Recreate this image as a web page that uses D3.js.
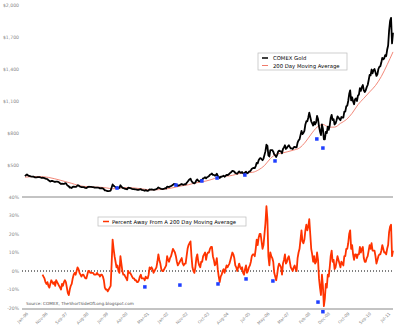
<!DOCTYPE html>
<html><head><meta charset="utf-8">
<script src="https://cdn.jsdelivr.net/npm/d3@7"></script>
<style>body{margin:0;background:#fff}svg{display:block}text{font-family:"DejaVu Sans",Verdana,sans-serif}</style>
</head><body><svg id="c" width="400" height="328"></svg>
<script>
// ---- DATA ----
// COMEX gold, semimonthly readings starting Jan 1996
const goldStart = 1996.0;
const goldPrice = [
395,405,412,404,398,396,393,392,391,390,385,383,384,386,387,387,383,380,381,380,378,372,369,368,
358,352,345,350,352,348,343,342,345,344,342,338,328,322,325,324,322,328,330,315,305,300,288,290,
284,295,298,296,295,298,310,308,300,296,292,293,292,290,285,284,290,295,296,294,294,293,292,289,
288,287,288,287,286,280,282,283,281,273,263,261,258,255,255,257,260,290,318,305,298,293,285,290,
285,285,310,298,288,283,281,276,275,272,287,286,283,280,276,274,273,271,271,268,266,268,272,274,
266,265,263,258,265,260,258,262,272,270,272,270,266,268,272,274,280,290,284,280,276,274,275,278,
282,280,298,296,293,299,302,308,314,322,322,318,312,305,310,312,318,322,316,315,320,318,332,343,
355,365,372,350,338,330,328,336,355,365,352,346,350,360,360,375,378,385,375,385,390,396,408,413,
420,407,408,400,405,418,398,388,378,390,390,395,400,390,398,408,405,410,418,428,435,445,442,438,
425,422,418,430,440,430,426,434,422,417,430,438,422,425,437,440,450,465,470,472,470,490,520,515,
545,560,565,555,545,560,595,630,690,680,590,580,640,640,640,625,600,590,575,595,625,635,630,628,
610,650,665,685,650,660,675,685,670,655,655,650,665,670,665,665,710,730,740,780,820,790,800,820,
880,910,910,945,990,950,910,890,870,905,880,900,960,930,860,815,780,880,840,740,740,810,800,860,
830,870,940,970,920,930,880,890,920,955,945,930,920,950,945,945,1000,1000,1050,1055,1100,1165,1200,1105,
1135,1095,1070,1115,1125,1100,1150,1160,1220,1195,1230,1250,1200,1185,1200,1230,1250,1295,1345,1340,1395,1360,1390,1400,
1370,1335,1350,1400,1420,1425,1460,1505,1490,1500,1530,1520,1580,1620,1760,1850,1880,1640,1740
];
// 200 day moving average, quarterly readings
const maYears = [1996.0,1996.25,1996.5,1996.75,1997.0,1997.25,1997.5,1997.75,1998.0,1998.25,1998.5,1998.75,
1999.0,1999.25,1999.5,1999.75,2000.0,2000.25,2000.5,2000.75,2001.0,2001.25,2001.5,2001.75,2002.0,2002.25,2002.5,2002.75,
2003.0,2003.25,2003.5,2003.75,2004.0,2004.25,2004.5,2004.75,2005.0,2005.25,2005.5,2005.75,2006.0,2006.25,2006.5,2006.75,
2007.0,2007.25,2007.5,2007.75,2008.0,2008.25,2008.5,2008.75,2009.0,2009.25,2009.5,2009.75,2010.0,2010.25,2010.5,2010.75,
2011.0,2011.25,2011.5,2011.75];
const maValues = [386,390,392,390,384,372,358,343,328,310,300,295,
293,291,285,277,283,287,287,283,276,269,267,269,274,283,295,306,
315,330,340,350,365,385,395,398,410,423,428,432,455,495,560,600,
612,625,640,660,715,790,855,880,855,855,890,925,985,1065,1125,1185,
1245,1330,1440,1560];
// Percent away from the 200 day average, semimonthly from Oct 1996
const pctStart = 1996.75;
const pctValues = [
-2,-3,-4,-6,-7,-6,
-8,-9,-7,-5,-6,-7,-6,-8,-5,-6,-7,-8,-9,-10,-7,-8,-6,-5,-6,-9,-12,-13,-10,-8,
-7,-4,-2,-1,-2,0,2,1,-1,-2,-3,-2,-2,-3,-4,-4,-2,0,0,-1,-1,-1,-1,-2,
-2,-2,-1,-2,-2,-3,-2,-2,-3,-5,-9,-10,-10,-11,-10,-9,-8,4,17,12,8,5,2,3,
0,-1,8,4,0,-2,-2,-3,-4,-5,0,-1,-1,-2,-3,-4,-4,-5,-5,-6,-6,-5,-3,-2,
-4,-4,-4,-5,-3,-4,-4,-2,2,1,2,1,-1,0,1,2,5,9,6,4,1,0,0,1,
2,3,8,6,5,7,8,10,12,11,10,8,5,3,4,5,6,7,4,3,4,4,8,12,
14,15,16,8,2,0,-1,2,7,9,5,3,2,5,5,8,9,10,6,9,10,10,12,13,
13,8,6,3,4,7,1,-3,-6,-3,-2,0,1,-1,1,3,2,3,4,6,8,10,9,7,
3,2,0,2,4,2,1,2,-1,-2,1,3,-1,0,2,3,5,8,9,9,8,12,17,14,
18,20,20,16,12,14,20,26,35,28,8,3,10,8,7,5,-1,-3,-5,-2,2,4,3,2,
-2,4,6,9,4,5,7,8,5,2,1,0,2,3,1,0,7,10,12,17,22,16,15,17,
22,25,22,24,28,20,12,9,5,8,4,5,10,6,-4,-9,-13,-2,-8,-19,-15,-7,-9,-2,
-3,2,8,11,5,6,1,2,5,8,6,4,2,5,4,3,8,8,12,12,15,20,22,12,
14,9,6,9,9,7,9,9,13,10,12,13,7,5,5,7,8,11,14,12,15,11,11,11,
8,4,6,8,9,9,11,14,12,10,10,9,12,14,21,24,25,8,11
];
const xTickYears = [1996.0,1996.83,1997.67,1998.58,1999.42,2000.25,2001.17,2002.0,2002.83,2003.75,2004.58,2005.5,2006.33,2007.17,2008.08,2008.92,2009.75,2010.67,2011.5];
const xTickLabels = ["Jan-96","Nov-96","Sep-97","Aug-98","Jun-99","Apr-00","Mar-01","Jan-02","Nov-02","Oct-03","Aug-04","Jul-05","May-06","Mar-07","Feb-08","Dec-08","Oct-09","Sep-10","Jul-11"];
const priceTicks = [500,800,1100,1400,1700,2000];
const pctTicks = [-20,-10,0,10,20,30,40];
const topDotYears = [1999.94,2002.46,2003.57,2004.22,2005.41,2006.70,2008.49,2008.75];
const topDotValues = [284,312,350,378,406,538,744,659];
const botDotYears = [2001.13,2002.63,2004.26,2005.46,2006.61,2008.54,2008.75];
const botDotValues = [-8.6,-7.6,-7,-4.3,-5.4,-16.8,-22];

// ---- CHART ----
const svg = d3.select("#c");
const x = d3.scaleLinear().domain([1996.0, 2011.75]).range([25, 393]);
const yTop = d3.scaleLinear().domain([200, 2000]).range([197, 5]);
const yBot = d3.scaleLinear().domain([-20, 40]).range([308, 197]);

const goldData = goldPrice.map((v,i)=>({t: goldStart + i/24, v}));
const maData = maYears.map((t,i)=>({t, v: maValues[i]}));
const pctData = pctValues.map((v,i)=>({t: pctStart + i/24, v}));

// axes
const axTop = svg.append("g").attr("transform","translate(20,0)")
  .call(d3.axisLeft(yTop).tickValues(priceTicks).tickSize(0).tickFormat(d3.format("$,")));
const axBot = svg.append("g").attr("transform","translate(20,0)")
  .call(d3.axisLeft(yBot).tickValues(pctTicks).tickSize(0).tickFormat(d=>d+"%"));
[axTop, axBot].forEach(g=>{
  g.select(".domain").remove();
  g.selectAll("text").attr("fill","#888").attr("font-size","4.6px").attr("x",-1);
});

// separator/base lines
svg.append("line").attr("x1",22).attr("x2",393).attr("y1",yBot(40)).attr("y2",yBot(40)).attr("stroke","#888").attr("stroke-width",1);
svg.append("line").attr("x1",22).attr("x2",393).attr("y1",yBot(-20)+1).attr("y2",yBot(-20)+1).attr("stroke","#888").attr("stroke-width",1);
svg.append("line").attr("x1",22).attr("x2",393).attr("y1",yBot(0)).attr("y2",yBot(0)).attr("stroke","#000").attr("stroke-width",1).attr("stroke-dasharray","1,2");

// x labels
const xAx = svg.append("g").attr("transform",`translate(0,${yBot(-20)+3})`)
  .call(d3.axisBottom(x).tickValues(xTickYears).tickSize(0).tickFormat((d,i)=>xTickLabels[i]));
xAx.select(".domain").remove();
xAx.selectAll("text").attr("fill","#888").attr("font-size","4.2px")
  .attr("text-anchor","end").attr("dy",0).attr("y",0)
  .attr("transform","translate(3,3) rotate(-45)");

// lines
const line = y => d3.line().x(d=>x(d.t)).y(d=>y(d.v));
svg.append("path").datum(maData).attr("d", line(yTop).curve(d3.curveMonotoneX)(maData))
  .attr("fill","none").attr("stroke","#f07a6a").attr("stroke-width",0.9);
svg.append("path").attr("d", line(yTop)(goldData))
  .attr("fill","none").attr("stroke","#000").attr("stroke-width",1.8).attr("stroke-linejoin","round");
svg.append("path").attr("d", line(yBot)(pctData))
  .attr("fill","none").attr("stroke","#ff3300").attr("stroke-width",1.8).attr("stroke-linejoin","round");

// dots
svg.selectAll(".td").data(topDotYears).enter().append("rect")
  .attr("x",(d)=>x(d)-1.75).attr("y",(d,i)=>yTop(topDotValues[i])-1.75).attr("width",3.5).attr("height",3.5).attr("fill","#1f3fff");
svg.selectAll(".bd").data(botDotYears).enter().append("rect")
  .attr("x",(d)=>x(d)-1.75).attr("y",(d,i)=>yBot(botDotValues[i])-1.75).attr("width",3.5).attr("height",3.5).attr("fill","#1f3fff");

// legends
const lg = svg.append("g");
lg.append("rect").attr("x",258).attr("y",53).attr("width",89).attr("height",17).attr("fill","#fff").attr("stroke","#bbb").attr("stroke-width",0.7);
lg.append("line").attr("x1",262).attr("x2",268).attr("y1",58).attr("y2",58).attr("stroke","#000").attr("stroke-width",1.5);
lg.append("text").attr("x",273).attr("y",60).attr("font-size","5.3px").text("COMEX Gold");
lg.append("line").attr("x1",262).attr("x2",268).attr("y1",65.5).attr("y2",65.5).attr("stroke","#f07a6a").attr("stroke-width",1);
lg.append("text").attr("x",273).attr("y",67.5).attr("font-size","5.3px").text("200 Day Moving Average");

const lb = svg.append("g");
lb.append("rect").attr("x",98).attr("y",217).attr("width",148).attr("height",9).attr("fill","#fff").attr("stroke","#bbb").attr("stroke-width",0.7);
lb.append("line").attr("x1",103).attr("x2",109).attr("y1",221.5).attr("y2",221.5).attr("stroke","#ff3300").attr("stroke-width",1.5);
lb.append("text").attr("x",112).attr("y",223.5).attr("font-size","5.3px").text("Percent Away From A 200 Day Moving Average");

svg.append("text").attr("x",26).attr("y",305).attr("font-size","4.2px").attr("fill","#555")
  .text("Source: COMEX, TheShortSideOfLong.blogspot.com");
</script></body></html>
